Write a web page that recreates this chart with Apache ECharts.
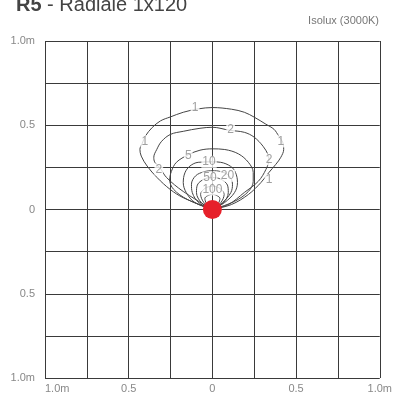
<!DOCTYPE html>
<html>
<head>
<meta charset="utf-8">
<script src="https://cdn.jsdelivr.net/npm/echarts@6/dist/echarts.min.js"></script>
<style>
  html, body { margin: 0; padding: 0; background: #fff; }
  #chart { width: 395px; height: 394px; }
</style>
</head>
<body>
<div id="chart"></div>
<script>
// axis ticks (metres) and their printed labels
var tickValues = [-1, -0.5, 0, 0.5, 1];
var tickLabels = ['1.0m', '0.5', '0', '0.5', '1.0m'];

// isolux curves, [x, y] in metres, closed through the light source at 0,0
var lux1 = [[0, 0], [-0.174, 0.07], [-0.252, 0.119], [-0.33, 0.189], [-0.39, 0.258], [-0.425, 0.317],
  [-0.433, 0.357], [-0.42, 0.39], [-0.4, 0.436], [-0.36, 0.486], [-0.31, 0.526], [-0.252, 0.549],
  [-0.174, 0.577], [-0.085, 0.597], [0, 0.605], [0.115, 0.595], [0.191, 0.577], [0.25, 0.548],
  [0.32, 0.506], [0.368, 0.476], [0.397, 0.435], [0.42, 0.399], [0.426, 0.357], [0.409, 0.31],
  [0.379, 0.268], [0.338, 0.22], [0.291, 0.161], [0.215, 0.089], [0.115, 0.03], [0, 0]];
var lux2 = [[0, 0], [-0.174, 0.107], [-0.274, 0.19], [-0.315, 0.25], [-0.344, 0.28], [-0.35, 0.31],
  [-0.332, 0.357], [-0.303, 0.405], [-0.25, 0.446], [-0.174, 0.464], [-0.074, 0.482], [0, 0.488],
  [0.103, 0.47], [0.191, 0.458], [0.25, 0.429], [0.303, 0.375], [0.332, 0.327], [0.338, 0.298],
  [0.32, 0.238], [0.274, 0.167], [0.191, 0.101], [0.097, 0.03], [0, 0]];
var lux5 = [[0, 0], [-0.15, 0.06], [-0.232, 0.12], [-0.255, 0.175], [-0.245, 0.226], [-0.215, 0.28],
  [-0.144, 0.325], [-0.074, 0.352], [0, 0.36], [0.074, 0.356], [0.156, 0.33], [0.215, 0.28],
  [0.244, 0.22], [0.244, 0.167], [0.215, 0.107], [0.132, 0.048], [0, 0]];
var lux10 = [[0, 0], [-0.105, 0.042], [-0.156, 0.1], [-0.174, 0.16], [-0.164, 0.218], [-0.134, 0.258],
  [-0.085, 0.28], [0, 0.283], [0.05, 0.28], [0.109, 0.256], [0.138, 0.22], [0.15, 0.16],
  [0.132, 0.1], [0.074, 0.042], [0, 0]];
var lux20 = [[0, 0], [-0.08, 0.04], [-0.12, 0.1], [-0.125, 0.15], [-0.1, 0.2], [-0.05, 0.224],
  [0, 0.23], [0.05, 0.225], [0.1, 0.2], [0.12, 0.15], [0.11, 0.1], [0.06, 0.04], [0, 0]];
var lux50 = [[0, 0], [-0.065, 0.04], [-0.095, 0.1], [-0.09, 0.145], [-0.05, 0.18], [0, 0.19],
  [0.05, 0.18], [0.09, 0.145], [0.095, 0.1], [0.065, 0.04], [0, 0]];
var lux100 = [[0, 0], [-0.05, 0.04], [-0.07, 0.09], [-0.045, 0.125], [0, 0.138], [0.045, 0.125],
  [0.07, 0.09], [0.05, 0.04], [0, 0]];
var lux200 = [[0, 0], [-0.035, 0.035], [-0.045, 0.065], [0, 0.09], [0.045, 0.065], [0.035, 0.035], [0, 0]];

// curve labels: [x, y, text]
var curveLabels = [
  [-0.103, 0.603, '1'], [-0.403, 0.405, '1'], [0.409, 0.405, '1'], [0.338, 0.175, '1'],
  [0.109, 0.472, '2'], [-0.32, 0.238, '2'], [0.338, 0.298, '2'],
  [-0.144, 0.322, '5'], [-0.02, 0.283, '10'], [0.09, 0.2, '20'],
  [-0.015, 0.19, '50'], [0, 0.119, '100']
];

var source = [[0, 0]];

var myChart = echarts.init(document.getElementById('chart'));

function tickText(v) {
  for (var i = 0; i < tickValues.length; i++) {
    if (Math.abs(v - tickValues[i]) < 1e-6) return tickLabels[i];
  }
  return '';
}

var gridLine = { show: true, lineStyle: { color: '#3a3a3a', width: 1 } };

function curve(data) {
  return {
    type: 'line',
    data: data,
    smooth: 0.35,
    symbol: 'none',
    silent: true,
    z: 2,
    lineStyle: { color: '#444', width: 1 }
  };
}

var option = {
  animation: false,
  title: [{
    text: '{b|R5} - Radiale 1x120',
    left: 11,
    top: -10,
    textStyle: {
      fontFamily: 'Liberation Sans',
      fontSize: 20,
      fontWeight: 'normal',
      color: '#444',
      rich: { b: { fontFamily: 'Liberation Sans', fontSize: 20, fontWeight: 'bold', color: '#444' } }
    }
  }, {
    text: 'Isolux (3000K)',
    right: 11,
    top: 10,
    textStyle: { fontFamily: 'Liberation Sans', fontSize: 11, fontWeight: 'normal', color: '#777' }
  }],
  grid: { left: 45, right: 11, top: 41, bottom: 16 },
  xAxis: {
    type: 'value', min: -1, max: 1, interval: 0.25,
    axisLine: { show: false }, axisTick: { show: false },
    splitLine: gridLine,
    axisLabel: {
      formatter: tickText, color: '#888', fontSize: 11, margin: 5,
      fontFamily: 'Liberation Sans', showMinLabel: true, showMaxLabel: true,
      alignMinLabel: 'left'
    }
  },
  yAxis: {
    type: 'value', min: -1, max: 1, interval: 0.25,
    axisLine: { show: false }, axisTick: { show: false },
    splitLine: gridLine,
    axisLabel: {
      formatter: tickText, color: '#888', fontSize: 11, margin: 10,
      fontFamily: 'Liberation Sans', showMinLabel: true, showMaxLabel: true
    }
  },
  series: [
    curve(lux1), curve(lux2), curve(lux5), curve(lux10),
    curve(lux20), curve(lux50), curve(lux100), curve(lux200),
    {
      type: 'scatter',
      data: curveLabels,
      symbolSize: 0,
      silent: true,
      z: 3,
      label: {
        show: true,
        position: 'inside',
        formatter: function (p) { return p.data[2]; },
        color: '#888',
        fontSize: 12,
        fontFamily: 'Liberation Sans',
        backgroundColor: '#fff',
        padding: [0, 1]
      }
    },
    {
      type: 'scatter',
      data: source,
      symbol: 'circle',
      symbolSize: 19,
      silent: true,
      z: 5,
      itemStyle: { color: '#e6202a', opacity: 1 }
    }
  ]
};

myChart.setOption(option);
</script>
</body>
</html>
